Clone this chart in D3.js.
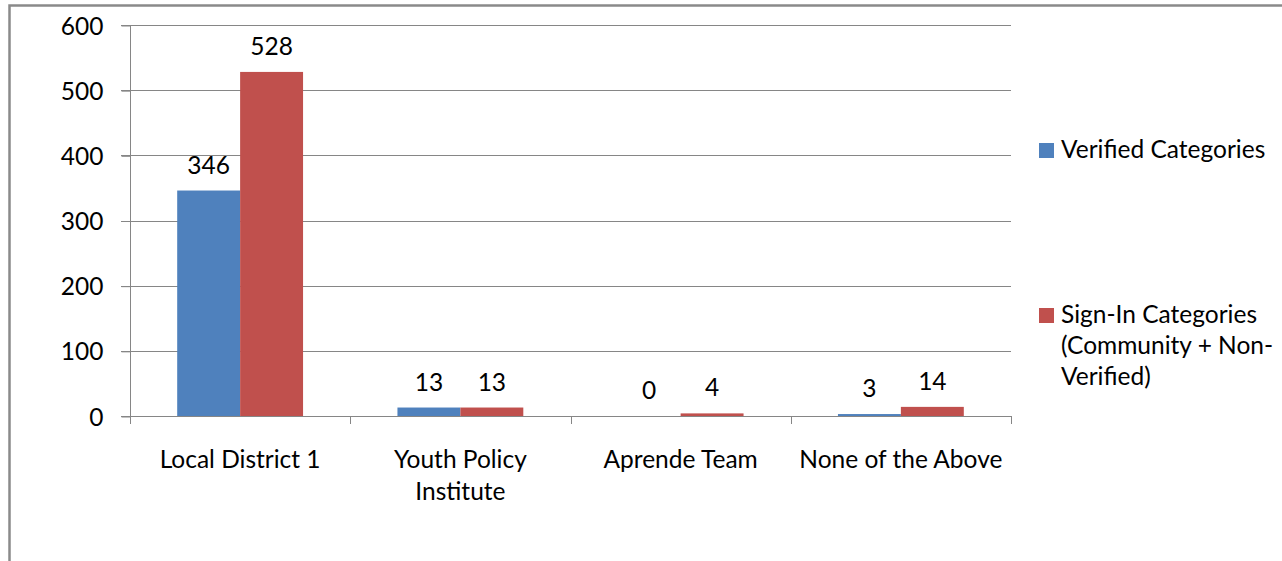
<!DOCTYPE html>
<html>
<head>
<meta charset="utf-8">
<script src="https://cdn.jsdelivr.net/npm/d3@7"></script>
<style>
  html, body { margin: 0; padding: 0; background: #fff; }
  svg { display: block; }
  text { font-family: Lato, "Open Sans", sans-serif; fill: #000; }
</style>
</head>
<body>
<svg id="chart" width="1282" height="561"></svg>
<script>
const categories = ["Local District 1", "Youth Policy Institute", "Aprende Team", "None of the Above"];
const categoryLabelLines = [["Local District 1"], ["Youth Policy", "Institute"], ["Aprende Team"], ["None of the Above"]];
const seriesNames = ["Verified Categories", "Sign-In Categories (Community + Non-Verified)"];
const legendLines = [["Verified Categories"], ["Sign-In Categories", "(Community + Non-", "Verified)"]];
const verifiedValues = [346, 13, 0, 3];
const signInValues = [528, 13, 4, 14];
const yTicks = [0, 100, 200, 300, 400, 500, 600];
const colors = ["#4F81BD", "#C0504D"];

(function () {
const FS = 24.5;
const svg = d3.select("#chart");
svg.append("rect").attr("width", 1282).attr("height", 561).attr("fill", "#fff");

// outer frame
svg.append("rect")
  .attr("x", 9.5).attr("y", 5.5).attr("width", 1400).attr("height", 700)
  .attr("fill", "none").attr("stroke", "#8a8a8a").attr("stroke-width", 2.5);

const pLeft = 130, pRight = 1011, pTop = 25, pBottom = 416;
const x = d3.scaleBand().domain(categories).range([pLeft, pRight]).padding(0);
const xs = d3.scaleBand().domain(seriesNames).range([0, x.bandwidth()]).paddingInner(0).paddingOuter(0.75);
const y = d3.scaleLinear().domain([0, 600]).range([pBottom, pTop]);

const gridColor = "#868686";
// gridlines
svg.append("g").selectAll("line").data(yTicks.filter(d => d > 0)).join("line")
  .attr("x1", pLeft - 9).attr("x2", pRight)
  .attr("y1", d => Math.round(y(d)) + 0.5).attr("y2", d => Math.round(y(d)) + 0.5)
  .attr("stroke", gridColor).attr("stroke-width", 1);

// y axis
const yAxis = d3.axisLeft(y).tickValues(yTicks).tickSize(9).tickPadding(18).tickFormat(d3.format("d"));
const gy = svg.append("g").attr("transform", `translate(${pLeft + 0.5},0.5)`).call(yAxis);
gy.select(".domain").attr("stroke", gridColor).attr("d", `M0,${pTop}V${pBottom}`);
gy.selectAll(".tick line").attr("stroke", gridColor);
gy.selectAll(".tick text").attr("font-size", FS).attr("font-family", "Lato, 'Open Sans', sans-serif")
  .attr("dy", "0.35em").attr("fill", "#000");

// bars
const data = categories.map((c, i) => ({ c, vals: [verifiedValues[i], signInValues[i]] }));
const groups = svg.append("g").selectAll("g").data(data).join("g")
  .attr("transform", d => `translate(${x(d.c)},0)`);
groups.selectAll("rect").data(d => d.vals.map((v, k) => ({ v, k }))).join("rect")
  .attr("x", d => xs(seriesNames[d.k]))
  .attr("width", xs.bandwidth())
  .attr("y", d => y(d.v))
  .attr("height", d => y(0) - y(d.v))
  .attr("fill", d => colors[d.k]);

// value labels
groups.selectAll("text.val").data(d => d.vals.map((v, k) => ({ v, k }))).join("text")
  .attr("class", "val")
  .attr("x", d => xs(seriesNames[d.k]) + xs.bandwidth() / 2)
  .attr("y", d => y(d.v) - 17)
  .attr("text-anchor", "middle").attr("font-size", FS)
  .text(d => d.v);

// x axis
const xBoundaries = categories.map(c => x(c)).concat([pRight]);
const gx = svg.append("g");
gx.append("line").attr("x1", pLeft - 9).attr("x2", pRight).attr("y1", pBottom + 0.5).attr("y2", pBottom + 0.5)
  .attr("stroke", gridColor);
gx.selectAll("line.tick").data(xBoundaries).join("line").attr("class", "tick")
  .attr("x1", d => Math.round(d) + 0.5).attr("x2", d => Math.round(d) + 0.5)
  .attr("y1", pBottom).attr("y2", pBottom + 8).attr("stroke", gridColor);
const catLabels = gx.selectAll("text.cat").data(categories).join("text").attr("class", "cat")
  .attr("text-anchor", "middle").attr("font-size", FS)
  .attr("x", d => x(d) + x.bandwidth() / 2).attr("y", 468);
catLabels.selectAll("tspan").data((d, i) => categoryLabelLines[i]).join("tspan")
  .attr("x", function () { return this.parentNode.getAttribute("x"); })
  .attr("dy", (d, i) => i === 0 ? 0 : 32)
  .text(d => d);

// legend
const legendY = [158, 323];
const leg = svg.append("g").selectAll("g").data(seriesNames).join("g");
leg.append("rect").attr("x", 1039).attr("y", (d, i) => legendY[i] - 15).attr("width", 15).attr("height", 15)
  .attr("fill", (d, i) => colors[i]);
const lt = leg.append("text").attr("x", 1061).attr("y", (d, i) => legendY[i]).attr("font-size", FS);
lt.selectAll("tspan").data((d, i) => legendLines[i]).join("tspan")
  .attr("x", 1061).attr("dy", (d, i) => i === 0 ? 0 : 31).text(d => d);
})();
</script>
</body>
</html>
